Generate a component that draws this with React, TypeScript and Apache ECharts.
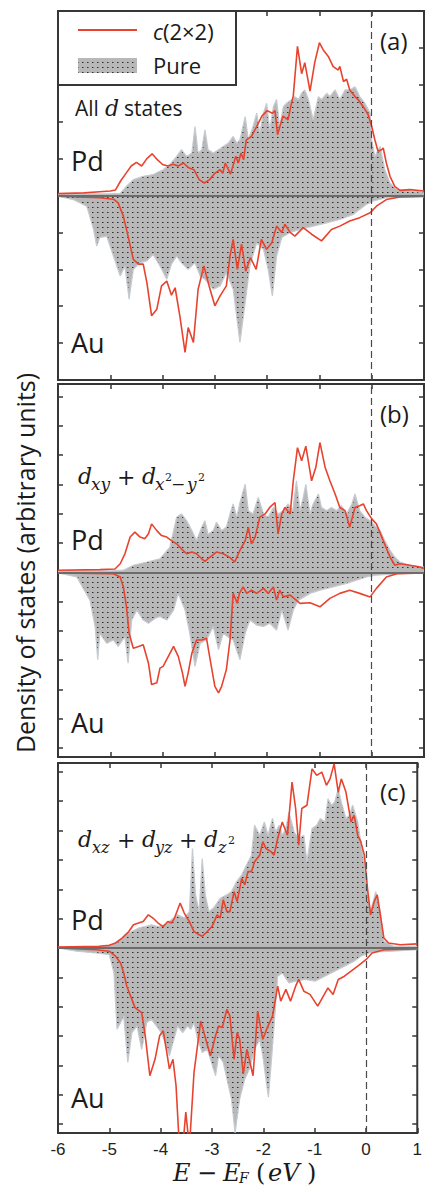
import React, { useEffect, useRef } from "react";
import * as echarts from "echarts";

type P = [number, number][];

const xTickValues = [-6, -5, -4, -3, -2, -1, 0, 1];
const yTicksA = [-5, -4, -3, -2, -1, 0, 1, 2, 3, 4, 5];
const yTicksBC = [-6, -5, -4, -3, -2, -1, 0, 1, 2, 3, 4, 5, 6];
const panelTags = ["(a)", "(b)", "(c)"];
const legendNames = ["c(2×2)", "Pure"];

// ---------- panel (a): all d states ----------
const aPdPure: P = [[-6,0.03],[-5.5,0.04],[-5.0,0.05],[-4.81,0.06],[-4.69,0.25],[-4.56,0.43],[-4.37,0.52],[-4.18,0.57],[-3.99,0.7],[-3.86,0.84],[-3.73,1.06],[-3.64,1.24],[-3.54,1.06],[-3.44,1.15],[-3.38,1.87],[-3.32,1.15],[-3.25,1.24],[-3.19,1.78],[-3.13,1.24],[-3.03,1.15],[-2.93,1.24],[-2.84,1.33],[-2.74,1.42],[-2.65,1.6],[-2.58,1.42],[-2.52,1.51],[-2.42,2.14],[-2.36,1.51],[-2.27,1.87],[-2.2,2.23],[-2.14,1.69],[-2.07,2.23],[-2.01,2.5],[-1.95,1.78],[-1.88,2.41],[-1.82,2.6],[-1.76,1.87],[-1.69,2.41],[-1.63,2.5],[-1.53,2.6],[-1.47,2.68],[-1.4,2.6],[-1.34,2.77],[-1.28,2.86],[-1.21,2.6],[-1.15,2.23],[-1.12,2.05],[-1.09,2.23],[-1.02,2.68],[-0.96,2.6],[-0.86,2.77],[-0.8,2.68],[-0.7,2.86],[-0.61,2.6],[-0.51,2.86],[-0.42,2.86],[-0.32,2.95],[-0.23,2.68],[-0.13,2.5],[-0.03,2.23],[0.0,1.5],[0.06,1.06],[0.16,1.33],[0.25,0.7],[0.35,0.34],[0.48,0.16],[0.73,0.12],[1.0,0.09]];
const aPdC22: P = [[-6,0.05],[-5.5,0.07],[-5.2,0.1],[-5.0,0.12],[-4.9,0.15],[-4.8,0.4],[-4.7,0.6],[-4.6,0.8],[-4.5,0.9],[-4.4,0.8],[-4.3,1.0],[-4.2,1.13],[-4.1,0.97],[-4.0,0.84],[-3.9,0.8],[-3.8,0.85],[-3.7,0.8],[-3.6,0.88],[-3.5,0.75],[-3.4,0.7],[-3.3,0.43],[-3.2,0.34],[-3.1,0.43],[-3.0,0.6],[-2.9,0.7],[-2.85,0.6],[-2.8,0.88],[-2.7,0.58],[-2.6,1.06],[-2.55,0.88],[-2.5,1.15],[-2.45,0.97],[-2.4,1.5],[-2.3,1.6],[-2.2,1.87],[-2.1,2.15],[-2.0,2.3],[-1.9,2.23],[-1.85,2.3],[-1.8,1.65],[-1.7,2.15],[-1.6,2.05],[-1.55,2.4],[-1.5,2.7],[-1.42,4.04],[-1.34,3.3],[-1.28,3.6],[-1.18,2.83],[-1.09,3.6],[-1.0,4.14],[-0.93,3.95],[-0.83,3.77],[-0.74,3.5],[-0.64,3.4],[-0.61,3.5],[-0.54,3.09],[-0.48,3.15],[-0.42,2.86],[-0.32,2.68],[-0.26,2.6],[-0.16,2.4],[-0.07,2.2],[0.0,1.87],[0.06,1.51],[0.12,1.2],[0.19,1.24],[0.22,1.29],[0.28,0.88],[0.35,0.52],[0.44,0.25],[0.54,0.14],[0.73,0.16],[1.0,0.12]];
const aAuPure: P = [[-6,-0.02],[-5.71,-0.11],[-5.45,-0.29],[-5.32,-0.92],[-5.26,-1.37],[-5.2,-1.14],[-5.07,-1.1],[-4.94,-1.64],[-4.81,-2.18],[-4.72,-1.91],[-4.64,-2.81],[-4.56,-2.0],[-4.43,-1.82],[-4.3,-1.77],[-4.18,-1.6],[-4.05,-1.91],[-3.92,-2.27],[-3.83,-1.86],[-3.73,-1.64],[-3.64,-1.82],[-3.51,-2.0],[-3.38,-1.82],[-3.28,-2.18],[-3.19,-2.27],[-3.03,-2.54],[-2.9,-2.45],[-2.78,-2.09],[-2.65,-2.54],[-2.52,-3.98],[-2.42,-2.9],[-2.33,-1.91],[-2.2,-1.28],[-2.07,-1.46],[-1.98,-2.0],[-1.9,-2.72],[-1.82,-1.64],[-1.72,-1.14],[-1.56,-1.0],[-1.37,-0.92],[-1.12,-0.83],[-0.86,-0.74],[-0.61,-0.65],[-0.35,-0.51],[-0.23,-0.38],[-0.1,-0.24],[0.03,-0.15],[0.28,-0.06],[1.0,-0.04]];
const aAuC22: P = [[-6,-0.02],[-5.2,-0.06],[-4.94,-0.1],[-4.85,-0.2],[-4.75,-0.56],[-4.66,-1.1],[-4.56,-1.73],[-4.46,-1.86],[-4.37,-1.86],[-4.3,-2.36],[-4.21,-3.26],[-4.11,-3.08],[-4.02,-2.45],[-3.92,-2.32],[-3.83,-2.7],[-3.76,-2.5],[-3.67,-3.26],[-3.57,-4.25],[-3.51,-3.58],[-3.41,-3.98],[-3.32,-2.54],[-3.21,-1.91],[-3.11,-2.45],[-3.0,-2.99],[-2.9,-2.72],[-2.78,-2.45],[-2.71,-1.64],[-2.65,-1.19],[-2.57,-2.0],[-2.49,-1.32],[-2.41,-2.05],[-2.32,-1.68],[-2.21,-2.0],[-2.11,-1.19],[-2.01,-1.46],[-1.91,-1.28],[-1.82,-0.83],[-1.72,-1.0],[-1.66,-0.78],[-1.56,-1.0],[-1.47,-1.1],[-1.31,-0.87],[-1.15,-1.05],[-0.96,-1.23],[-0.77,-0.92],[-0.61,-0.83],[-0.42,-0.69],[-0.23,-0.6],[-0.03,-0.47],[0.09,-0.29],[0.28,-0.11],[0.54,-0.04],[1.0,-0.02]];

// ---------- panel (b): dxy + dx2-y2 ----------
const bPdPure: P = [[-6,0.05],[-5,0.05],[-4.75,0.07],[-4.56,0.24],[-4.3,0.35],[-4.05,0.46],[-3.86,0.86],[-3.73,1.88],[-3.64,1.99],[-3.54,1.76],[-3.44,1.42],[-3.35,1.08],[-3.25,1.54],[-3.19,1.76],[-3.13,1.3],[-3.03,1.42],[-2.97,1.71],[-2.87,1.42],[-2.78,1.54],[-2.71,1.99],[-2.65,2.33],[-2.58,1.88],[-2.52,2.38],[-2.42,3.0],[-2.36,2.1],[-2.27,1.99],[-2.17,2.55],[-2.07,1.99],[-1.98,1.88],[-1.88,2.21],[-1.79,1.99],[-1.69,2.1],[-1.6,2.33],[-1.51,2.1],[-1.44,3.12],[-1.37,2.1],[-1.31,2.55],[-1.26,3.0],[-1.18,1.99],[-1.12,2.33],[-1.02,2.67],[-0.96,2.21],[-0.86,2.1],[-0.77,2.21],[-0.67,2.1],[-0.58,2.27],[-0.48,1.99],[-0.38,2.33],[-0.32,2.67],[-0.23,2.1],[-0.13,1.88],[-0.03,1.76],[0.06,1.59],[0.16,1.42],[0.25,1.08],[0.35,0.75],[0.44,0.52],[0.54,0.35],[0.73,0.24],[1.0,0.18]];
const bPdC22: P = [[-6,0.07],[-5.2,0.09],[-4.91,0.11],[-4.81,0.29],[-4.72,0.63],[-4.62,1.2],[-4.53,1.37],[-4.43,1.2],[-4.34,1.14],[-4.27,1.31],[-4.21,1.65],[-4.11,1.42],[-4.02,1.25],[-3.92,1.2],[-3.83,1.08],[-3.73,0.97],[-3.64,0.8],[-3.54,0.63],[-3.44,0.69],[-3.35,0.63],[-3.25,0.46],[-3.19,0.37],[-3.09,0.52],[-2.97,0.69],[-2.84,0.63],[-2.71,0.5],[-2.62,0.35],[-2.52,0.75],[-2.42,1.08],[-2.36,1.54],[-2.3,0.97],[-2.23,1.2],[-2.14,1.88],[-2.04,1.99],[-1.95,2.21],[-1.85,2.38],[-1.79,1.31],[-1.72,1.99],[-1.66,2.21],[-1.56,1.99],[-1.5,3.12],[-1.42,4.25],[-1.34,3.8],[-1.26,4.3],[-1.15,3.12],[-1.07,3.57],[-0.99,4.42],[-0.89,3.57],[-0.8,3.12],[-0.7,2.67],[-0.61,2.21],[-0.51,2.1],[-0.42,1.54],[-0.32,2.21],[-0.23,2.27],[-0.16,2.33],[-0.1,2.1],[0.0,1.82],[0.09,1.65],[0.22,1.08],[0.35,0.52],[0.44,0.24],[0.54,0.29],[0.73,0.24],[0.92,0.18],[1.0,0.12]];
const bAuPure: P = [[-6,-0.02],[-5.64,-0.16],[-5.39,-0.95],[-5.29,-1.85],[-5.24,-2.98],[-5.2,-2.08],[-5.07,-2.42],[-4.94,-2.31],[-4.85,-2.53],[-4.72,-2.2],[-4.66,-3.1],[-4.59,-1.63],[-4.49,-1.29],[-4.37,-1.63],[-4.27,-1.74],[-4.14,-1.57],[-4.05,-1.51],[-3.92,-1.63],[-3.79,-1.29],[-3.7,-0.72],[-3.57,-1.29],[-3.48,-2.08],[-3.38,-3.21],[-3.28,-2.42],[-3.16,-2.31],[-3.03,-1.85],[-2.93,-2.64],[-2.84,-2.08],[-2.75,-2.2],[-2.65,-2.31],[-2.52,-2.98],[-2.42,-2.08],[-2.33,-1.63],[-2.2,-1.8],[-2.07,-1.85],[-1.95,-1.74],[-1.82,-1.97],[-1.72,-1.29],[-1.6,-1.97],[-1.5,-1.29],[-1.4,-0.95],[-1.18,-0.72],[-0.99,-0.61],[-0.74,-0.5],[-0.48,-0.38],[-0.29,-0.27],[-0.1,-0.16],[0.09,-0.1],[0.54,-0.05],[1.0,-0.02]];
const bAuC22: P = [[-6,-0.02],[-4.94,-0.05],[-4.81,-0.16],[-4.75,-0.5],[-4.69,-1.18],[-4.64,-2.08],[-4.56,-2.59],[-4.46,-2.53],[-4.37,-2.47],[-4.27,-3.1],[-4.21,-3.83],[-4.11,-3.77],[-4.05,-3.27],[-3.99,-3.21],[-3.89,-2.87],[-3.79,-2.53],[-3.7,-2.87],[-3.62,-3.43],[-3.57,-3.89],[-3.51,-3.43],[-3.44,-2.76],[-3.35,-2.31],[-3.25,-2.31],[-3.16,-2.25],[-3.09,-2.98],[-3.0,-3.89],[-2.93,-4.11],[-2.87,-3.89],[-2.78,-3.32],[-2.71,-2.31],[-2.65,-0.72],[-2.57,-1.06],[-2.53,-0.72],[-2.46,-0.5],[-2.39,-0.72],[-2.3,-0.61],[-2.2,-0.72],[-2.07,-0.55],[-1.98,-0.72],[-1.88,-0.5],[-1.82,-0.95],[-1.76,-0.61],[-1.69,-0.84],[-1.56,-0.78],[-1.37,-1.06],[-1.18,-1.04],[-0.99,-1.18],[-0.8,-0.89],[-0.61,-0.72],[-0.42,-0.61],[-0.23,-0.72],[-0.03,-0.84],[0.09,-0.55],[0.28,-0.16],[0.48,-0.05],[1.0,-0.02]];

// ---------- panel (c): dxz + dyz + dz2 ----------
const cPdPure: P = [[-6,0.03],[-5.2,0.03],[-4.94,0.11],[-4.81,0.23],[-4.69,0.45],[-4.56,0.56],[-4.43,0.68],[-4.3,0.73],[-4.18,0.79],[-4.05,0.73],[-3.92,0.79],[-3.79,0.96],[-3.67,1.13],[-3.54,1.02],[-3.44,1.24],[-3.38,3.39],[-3.32,1.81],[-3.25,1.24],[-3.19,3.05],[-3.13,1.81],[-3.06,1.24],[-2.97,1.36],[-2.84,1.69],[-2.71,1.81],[-2.62,1.92],[-2.52,2.26],[-2.42,2.49],[-2.33,2.82],[-2.23,3.16],[-2.17,4.18],[-2.07,3.84],[-1.98,4.29],[-1.91,3.84],[-1.82,4.41],[-1.76,3.95],[-1.69,4.18],[-1.63,3.84],[-1.56,4.07],[-1.5,4.63],[-1.4,3.95],[-1.31,3.73],[-1.21,3.84],[-1.15,2.94],[-1.05,4.07],[-0.96,4.18],[-0.89,4.41],[-0.8,4.29],[-0.74,5.08],[-0.67,4.86],[-0.61,4.97],[-0.54,5.42],[-0.48,4.97],[-0.39,4.41],[-0.32,4.52],[-0.26,4.86],[-0.16,4.29],[-0.1,3.62],[-0.03,2.82],[0.03,1.81],[0.09,1.24],[0.19,1.92],[0.28,1.24],[0.35,0.23],[0.54,0.06],[1.0,0.06]];
const cPdC22: P = [[-6,0.03],[-5.2,0.06],[-5.0,0.09],[-4.88,0.17],[-4.75,0.34],[-4.62,0.56],[-4.53,0.79],[-4.43,0.85],[-4.34,0.9],[-4.24,1.13],[-4.15,1.02],[-4.05,0.85],[-3.95,0.73],[-3.86,0.9],[-3.79,0.85],[-3.73,1.02],[-3.62,1.53],[-3.54,1.19],[-3.44,0.9],[-3.35,0.56],[-3.25,0.45],[-3.19,0.4],[-3.09,0.56],[-3.0,0.73],[-2.9,1.13],[-2.84,1.02],[-2.78,1.64],[-2.71,1.24],[-2.65,1.24],[-2.57,1.92],[-2.51,1.58],[-2.42,2.37],[-2.36,2.15],[-2.3,2.6],[-2.23,2.6],[-2.17,2.94],[-2.07,3.16],[-2.01,3.62],[-1.95,3.39],[-1.85,3.28],[-1.79,3.16],[-1.72,3.73],[-1.63,4.29],[-1.53,3.84],[-1.44,5.65],[-1.37,4.75],[-1.31,3.5],[-1.25,4.75],[-1.15,4.86],[-1.05,6.1],[-0.96,5.88],[-0.86,5.99],[-0.77,5.54],[-0.7,5.76],[-0.62,6.27],[-0.54,5.31],[-0.48,5.76],[-0.39,5.31],[-0.29,4.29],[-0.23,4.52],[-0.16,3.84],[-0.1,3.62],[-0.03,3.16],[0.03,2.03],[0.09,1.13],[0.16,1.58],[0.22,1.81],[0.28,1.13],[0.35,0.34],[0.44,0.17],[0.67,0.11],[1.0,0.14]];
const cAuPure: P = [[-6,0],[-5.64,-0.11],[-5.26,-0.17],[-5.0,-0.23],[-4.91,-0.85],[-4.85,-2.77],[-4.78,-2.54],[-4.72,-2.32],[-4.64,-3.9],[-4.56,-2.88],[-4.46,-2.66],[-4.37,-3.45],[-4.27,-2.54],[-4.18,-2.43],[-4.08,-2.66],[-3.99,-2.88],[-3.89,-3.33],[-3.83,-3.67],[-3.76,-3.22],[-3.67,-2.66],[-3.57,-2.88],[-3.48,-2.66],[-3.41,-2.77],[-3.35,-2.54],[-3.28,-3.11],[-3.19,-3.56],[-3.09,-3.45],[-3.03,-3.79],[-2.93,-4.35],[-2.87,-3.67],[-2.78,-3.9],[-2.68,-4.69],[-2.62,-5.14],[-2.55,-6.3],[-2.46,-5.14],[-2.36,-4.46],[-2.27,-4.12],[-2.17,-3.45],[-2.07,-3.11],[-2.01,-3.67],[-1.95,-4.46],[-1.9,-5.08],[-1.85,-4.01],[-1.79,-2.66],[-1.72,-0.96],[-1.63,-0.85],[-1.5,-1.19],[-1.37,-1.13],[-1.18,-1.07],[-0.99,-1.13],[-0.8,-0.96],[-0.61,-0.79],[-0.42,-0.62],[-0.23,-0.45],[-0.1,-0.28],[0.09,-0.15],[1.0,-0.06]];
const cAuC22: P = [[-6,0],[-5.26,-0.06],[-5.0,-0.11],[-4.88,-0.28],[-4.78,-0.51],[-4.72,-0.85],[-4.66,-1.3],[-4.56,-1.75],[-4.5,-2.03],[-4.37,-2.2],[-4.3,-2.99],[-4.21,-4.35],[-4.11,-3.79],[-4.02,-2.99],[-3.95,-2.82],[-3.89,-3.45],[-3.83,-4.12],[-3.76,-3.79],[-3.7,-4.69],[-3.64,-6.6],[-3.57,-6.8],[-3.51,-5.59],[-3.44,-6.8],[-3.35,-4.24],[-3.22,-2.49],[-3.12,-3.11],[-3.03,-3.67],[-2.93,-2.99],[-2.87,-2.66],[-2.8,-2.71],[-2.71,-2.09],[-2.65,-2.32],[-2.57,-3.79],[-2.51,-2.88],[-2.46,-3.11],[-2.39,-4.29],[-2.32,-3.45],[-2.2,-4.35],[-2.11,-2.15],[-2.01,-3.11],[-1.91,-2.66],[-1.82,-2.32],[-1.72,-1.3],[-1.66,-1.81],[-1.56,-1.41],[-1.47,-1.81],[-1.37,-1.3],[-1.31,-1.07],[-1.21,-1.47],[-1.09,-1.58],[-0.94,-1.98],[-0.83,-1.64],[-0.74,-1.36],[-0.64,-1.58],[-0.54,-1.07],[-0.42,-0.96],[-0.29,-0.79],[-0.16,-0.62],[0.0,-0.4],[0.12,-0.17],[0.35,-0.06],[1.0,-0.03]];

const RED = "#e8432f";
const INK = "#1a1a1a";
const FRAME = "#363636";
const SANS = "'Open Sans', 'Noto Sans', sans-serif";
const SERIF = "'DejaVu Serif', 'Liberation Serif', serif";

function makePatternURL(): string {
  const c = document.createElement("canvas");
  c.width = 5;
  c.height = 5;
  const ctx = c.getContext("2d")!;
  ctx.fillStyle = "#b8b8b8";
  ctx.fillRect(0, 0, 5, 5);
  ctx.fillStyle = "#2e2e2e";
  ctx.fillRect(2, 2, 1, 1);
  ctx.fillStyle = "#707070";
  ctx.fillRect(3, 2, 1, 1);
  return c.toDataURL();
}

function txt(text: string, x: number, y: number, size: number, opt: any = {}) {
  return {
    type: "text",
    x,
    y,
    z: 100,
    silent: true,
    rotation: opt.rotation || 0,
    style: {
      text,
      fill: INK,
      font: `${opt.italic ? "italic " : ""}${size}px ${opt.family || SANS}`,
      align: opt.align || "left",
      verticalAlign: "middle",
    },
  };
}

export default function App() {
  const ref = useRef<HTMLDivElement>(null);

  useEffect(() => {
    if (!ref.current) return;
    const chart = echarts.init(ref.current, undefined, { renderer: "svg" });
    const patternURL = makePatternURL();
    const pattern: any = { image: patternURL, repeat: "repeat", imageWidth: 5, imageHeight: 5 };

    const panels = [
      { pdPure: aPdPure, pdC: aPdC22, auPure: aAuPure, auC: aAuC22, top: 11, height: 369, yMin: -5, yMax: 5, ticks: yTicksA },
      { pdPure: bPdPure, pdC: bPdC22, auPure: bAuPure, auC: bAuC22, top: 384, height: 373, yMin: -6.3, yMax: 6.42, ticks: yTicksBC },
      { pdPure: cPdPure, pdC: cPdC22, auPure: cAuPure, auC: cAuC22, top: 763, height: 370, yMin: -6.3, yMax: 6.3, ticks: yTicksBC },
    ];

    const grid: any[] = [];
    const xAxis: any[] = [];
    const yAxis: any[] = [];
    const series: any[] = [];
    const tickStyle = { color: FRAME, width: 1.5 };

    panels.forEach((p, i) => {
      grid.push({ left: 58, top: p.top, width: 366, height: p.height, show: true, borderColor: FRAME, borderWidth: 2, backgroundColor: "transparent" });
      ["bottom", "top"].forEach((pos) => {
        xAxis.push({
          type: "value", gridIndex: i, position: pos, min: -6, max: 1, interval: 1,
          axisLine: { show: false, onZero: false },
          axisTick: { show: true, inside: true, length: 5, lineStyle: tickStyle, customValues: xTickValues },
          axisLabel: {
            show: pos === "bottom" && i === 2, margin: 8, color: "#222", fontSize: 17,
            fontFamily: "'Liberation Sans', Arial, sans-serif",
          },
          splitLine: { show: false },
        });
      });
      ["left", "right"].forEach((pos) => {
        yAxis.push({
          type: "value", gridIndex: i, position: pos, min: p.yMin, max: p.yMax, splitNumber: 12,
          axisLine: { show: false, onZero: false },
          axisTick: { show: true, inside: true, length: 5, lineStyle: tickStyle, customValues: p.ticks },
          axisLabel: { show: false },
          splitLine: { show: false },
        });
      });
      const xi = i * 2;
      const yi = i * 2;
      const area = (data: P, withMarks: boolean) => ({
        type: "line", xAxisIndex: xi, yAxisIndex: yi, data, symbol: "none", showSymbol: false,
        lineStyle: { color: "#c6cbd1", width: 1.2 },
        areaStyle: { color: pattern, opacity: 1 },
        z: 2, silent: true,
        markLine: withMarks ? {
          silent: true, symbol: ["none", "none"], label: { show: false },
          data: [
            { xAxis: 0, lineStyle: { color: "#4a4a4a", width: 1.2, type: [7, 4] } },
            { yAxis: 0, lineStyle: { color: "#6c6c6c", width: 2.2, type: "solid" } },
          ],
        } : undefined,
      });
      const red = (data: P) => ({
        type: "line", xAxisIndex: xi, yAxisIndex: yi, data, symbol: "none", showSymbol: false,
        lineStyle: { color: RED, width: 1.6 }, z: 4, silent: true,
      });
      series.push(area(p.pdPure, false), area(p.auPure, true), red(p.pdC), red(p.auC));
    });

    const graphic: any[] = [
      // legend
      { type: "rect", z: 99, silent: true, shape: { x: 58, y: 11, width: 178, height: 74 }, style: { fill: "#fff", stroke: FRAME, lineWidth: 2 } },
      { type: "line", z: 100, silent: true, shape: { x1: 78, y1: 30, x2: 137, y2: 30 }, style: { stroke: RED, lineWidth: 2 } },
      {
        type: "text", z: 100, x: 153, y: 31, silent: true,
        style: {
          text: "{i|c}{n|(2×2)}", verticalAlign: "middle",
          rich: {
            i: { fontFamily: SANS, fontSize: 22, fontStyle: "italic", fill: INK },
            n: { fontFamily: SANS, fontSize: 22, fill: INK },
          },
        },
      },
      { type: "rect", z: 100, silent: true, shape: { x: 78, y: 58, width: 59, height: 15 }, style: { fill: pattern } },
      txt(legendNames[1], 153, 65, 22),
      // panel tags
      txt(panelTags[0], 380, 40, 24),
      txt(panelTags[1], 380, 413, 24),
      txt(panelTags[2], 380, 791, 24),
      // element labels
      txt("Pd", 71, 160, 27), txt("Au", 71, 342, 27),
      txt("Pd", 71, 539, 27), txt("Au", 71, 722, 27),
      txt("Pd", 71, 919, 27), txt("Au", 71, 1097, 27),
      // All d states
      txt("All", 75, 108, 21), txt("d", 105, 108, 22, { italic: true, family: SERIF }), txt("states", 124, 108, 21),
      // panel b math: d_xy + d_{x^2-y^2}
      txt("d", 78, 476, 22, { italic: true, family: SERIF }),
      txt("xy", 91, 484, 17, { italic: true, family: SERIF }),
      txt("+", 117, 477, 22, { family: SERIF }),
      txt("d", 142, 476, 22, { italic: true, family: SERIF }),
      txt("x", 155, 484, 17, { italic: true, family: SERIF }),
      txt("2", 165, 477, 11, { family: SERIF }),
      txt("−", 171, 484, 17, { family: SERIF }),
      txt("y", 187, 484, 17, { italic: true, family: SERIF }),
      txt("2", 198, 477, 11, { family: SERIF }),
      // panel c math: d_xz + d_yz + d_{z^2}
      txt("d", 78, 839, 22, { italic: true, family: SERIF }),
      txt("xz", 92, 847, 16, { italic: true, family: SERIF }),
      txt("+", 117, 840, 22, { family: SERIF }),
      txt("d", 142, 839, 22, { italic: true, family: SERIF }),
      txt("yz", 155, 847, 16, { italic: true, family: SERIF }),
      txt("+", 179, 840, 22, { family: SERIF }),
      txt("d", 204, 839, 22, { italic: true, family: SERIF }),
      txt("z", 218, 847, 16, { italic: true, family: SERIF }),
      txt("2", 228, 840, 11, { family: SERIF }),
      // x axis title: E - E_F (eV)
      txt("E", 173, 1173, 24, { italic: true, family: SERIF }),
      txt("−", 197, 1173, 24, { family: SERIF }),
      txt("E", 223, 1173, 24, { italic: true, family: SERIF }),
      txt("F", 239, 1178, 14, { italic: true, family: SERIF }),
      txt("(", 256, 1173, 24, { family: SERIF }),
      txt("eV", 268, 1173, 24, { italic: true, family: SERIF }),
      txt(")", 307, 1173, 24, { family: SERIF }),
      // y axis title
      txt("Density of states (arbitrary units)", 25, 563, 25, { rotation: Math.PI / 2, align: "center" }),
    ];

    chart.setOption({
      animation: false,
      backgroundColor: "#ffffff",
      grid,
      xAxis,
      yAxis,
      series,
      graphic,
    });
    return () => chart.dispose();
  }, []);

  return (
    <div
      ref={ref}
      style={{ position: "absolute", left: 0, top: 0, width: 425, height: 1186 }}
    />
  );
}
